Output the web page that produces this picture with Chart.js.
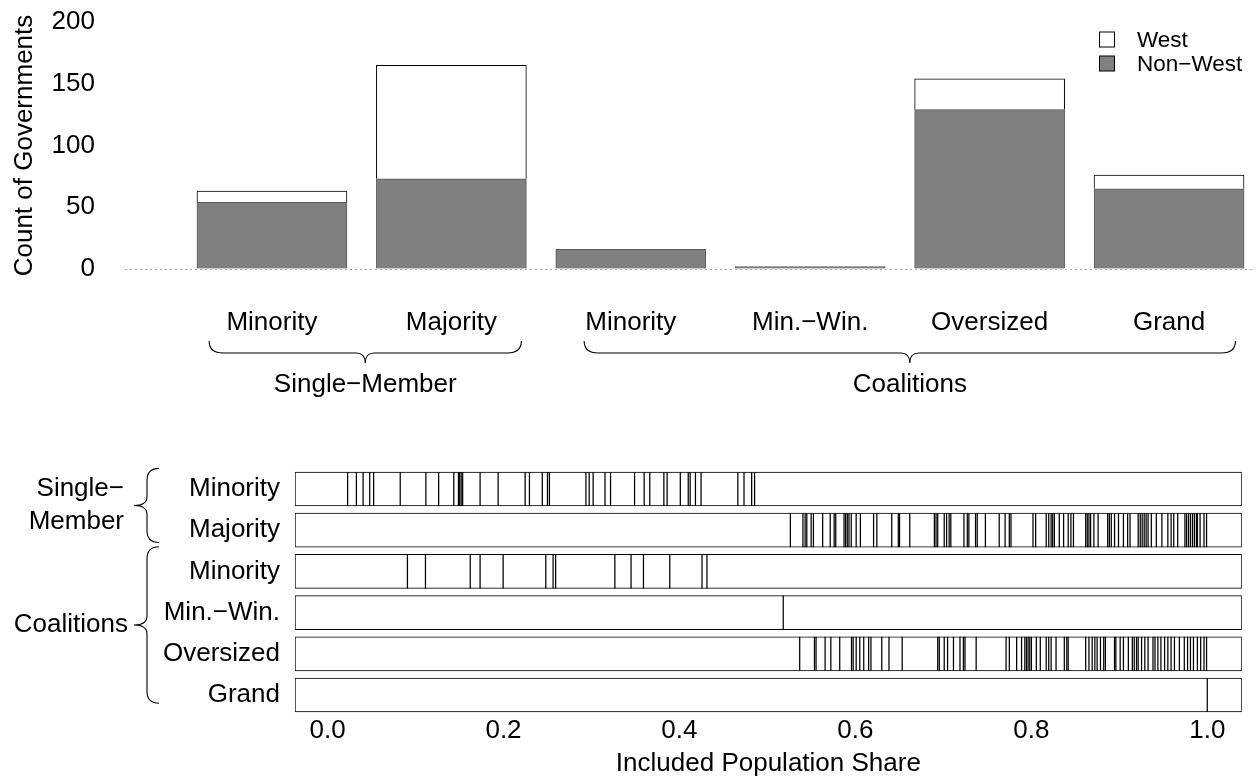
<!DOCTYPE html>
<html>
<head>
<meta charset="utf-8">
<script src="https://cdn.jsdelivr.net/npm/chart.js@4.4.1/dist/chart.umd.min.js"></script>
<style>
  html, body { margin: 0; padding: 0; background: #ffffff; }
  #wrap { position: relative; width: 1260px; height: 780px; }
  #countChart { position: absolute; left: 0; top: 0; }
  #shareChart { position: absolute; left: 0; top: 420px; }
</style>
</head>
<body>
<div id="wrap">
  <canvas id="countChart" width="1260" height="420"></canvas>
  <canvas id="shareChart" width="1260" height="360"></canvas>
</div>
<script>
// ---- data -------------------------------------------------------------
const governmentTypes = ['Minority', 'Majority', 'Minority', 'Min.\u2212Win.', 'Oversized', 'Grand'];
const groupNames = ['Single\u2212Member', 'Coalitions'];
const nonWestCounts = [54, 73, 16, 2, 129, 65];
const westCounts = [9, 92, 0, 0, 25, 11];
const countTicks = [0, 50, 100, 150, 200];
const shareTicks = [0.0, 0.2, 0.4, 0.6, 0.8, 1.0];

// included population share of each government, by type
const shareSingleMinority = [0.0228, 0.0328, 0.0404, 0.0479, 0.0524, 0.0826, 0.1118, 0.1263, 0.1435, 0.1488,
  0.1502, 0.1519, 0.1536, 0.1734, 0.1939, 0.2246, 0.2295, 0.2441, 0.2500, 0.2522, 0.2937, 0.2974, 0.3019,
  0.3154, 0.3217, 0.3490, 0.3599, 0.3663, 0.3823, 0.3860, 0.4010, 0.4100, 0.4122, 0.4182, 0.4246, 0.4664,
  0.4734, 0.4821, 0.4854];
const shareSingleMajority = [0.5261, 0.5404, 0.5429, 0.5448, 0.5497, 0.5523, 0.5628, 0.5714, 0.5759, 0.5777,
  0.5871, 0.5889, 0.5908, 0.5927, 0.5953, 0.6009, 0.6057, 0.6207, 0.6244, 0.6413, 0.6488, 0.6502, 0.6618,
  0.6898, 0.6917, 0.6936, 0.7010, 0.7037, 0.7066, 0.7085, 0.7234, 0.7272, 0.7290, 0.7366, 0.7385, 0.7478,
  0.7635, 0.7702, 0.7750, 0.7769, 0.8019, 0.8049, 0.8169, 0.8198, 0.8225, 0.8243, 0.8262, 0.8318, 0.8367,
  0.8419, 0.8450, 0.8479, 0.8618, 0.8636, 0.8655, 0.8674, 0.8711, 0.8759, 0.8868, 0.8887, 0.8909, 0.8946,
  0.8991, 0.9047, 0.9095, 0.9122, 0.9215, 0.9238, 0.9260, 0.9283, 0.9305, 0.9327, 0.9364, 0.9421, 0.9484,
  0.9552, 0.9589, 0.9619, 0.9664, 0.9746, 0.9765, 0.9787, 0.9809, 0.9832, 0.9854, 0.9877, 0.9888, 0.9918,
  0.9963, 0.9992];
const shareCoalMinority = [0.0908, 0.1113, 0.1622, 0.1734, 0.1996, 0.2481, 0.2564, 0.2593, 0.3266, 0.3450,
  0.3591, 0.3890, 0.4257, 0.4313];
const shareCoalMinWin = [0.518];
const shareCoalOversized = [0.5367, 0.5535, 0.5553, 0.5656, 0.5721, 0.5822, 0.5956, 0.5975, 0.6009, 0.6050,
  0.6095, 0.6151, 0.6177, 0.6300, 0.6382, 0.6532, 0.6936, 0.6954, 0.7010, 0.7048, 0.7115, 0.7189, 0.7228,
  0.7246, 0.7373, 0.7713, 0.7750, 0.7833, 0.7889, 0.7926, 0.7945, 0.7963, 0.7982, 0.8001, 0.8057, 0.8102,
  0.8169, 0.8198, 0.8225, 0.8281, 0.8375, 0.8403, 0.8419, 0.8618, 0.8655, 0.8692, 0.8722, 0.8748, 0.8786,
  0.8823, 0.8842, 0.8946, 0.8961, 0.9010, 0.9047, 0.9103, 0.9148, 0.9170, 0.9196, 0.9215, 0.9253, 0.9290,
  0.9327, 0.9383, 0.9406, 0.9439, 0.9473, 0.9515, 0.9552, 0.9589, 0.9627, 0.9683, 0.9739, 0.9776, 0.9809,
  0.9843, 0.9888, 0.9925, 0.9963, 0.9992];
const shareCoalGrand = [1.0];

const shareByType = [shareSingleMinority, shareSingleMajority, shareCoalMinority,
  shareCoalMinWin, shareCoalOversized, shareCoalGrand];

// ---- shared style -----------------------------------------------------
const FONT = "'Liberation Sans', Arial, Helvetica, sans-serif";
Chart.defaults.font.family = FONT;
Chart.defaults.color = '#000000';
const TEXT = 26;

// horizontal curly brace, tip pointing down
function braceDown(ctx, x1, x2, xTip, yEnd, yMid, yTip) {
  const r = 14, rt = 9;
  ctx.beginPath();
  ctx.moveTo(x1, yEnd);
  ctx.quadraticCurveTo(x1, yMid, x1 + r, yMid);
  ctx.lineTo(xTip - rt, yMid);
  ctx.quadraticCurveTo(xTip, yMid, xTip, yTip);
  ctx.quadraticCurveTo(xTip, yMid, xTip + rt, yMid);
  ctx.lineTo(x2 - r, yMid);
  ctx.quadraticCurveTo(x2, yMid, x2, yEnd);
  ctx.stroke();
}

// vertical curly brace, tip pointing left
function braceLeft(ctx, y1, y2, yTip, xEnd, xMid, xTip) {
  const r = 12, rt = 9;
  ctx.beginPath();
  ctx.moveTo(xEnd, y1);
  ctx.quadraticCurveTo(xMid, y1, xMid, y1 + r);
  ctx.lineTo(xMid, yTip - rt);
  ctx.quadraticCurveTo(xMid, yTip, xTip, yTip);
  ctx.quadraticCurveTo(xMid, yTip, xMid, yTip + rt);
  ctx.lineTo(xMid, y2 - r);
  ctx.quadraticCurveTo(xMid, y2, xEnd, y2);
  ctx.stroke();
}

// ---- counts per government type ----------------------------------------
const countGroups = [
  { name: groupNames[0], from: 0.65, to: 2.39 },
  { name: groupNames[1], from: 2.74, to: 6.37 }
];

const countDecor = {
  id: 'countDecor',
  afterDraw(chart) {
    const ctx = chart.ctx;
    const x = chart.scales.x;
    ctx.save();
    ctx.strokeStyle = '#000000';
    ctx.lineWidth = 1.1;
    ctx.fillStyle = '#000000';
    ctx.font = TEXT + 'px ' + FONT;
    ctx.textAlign = 'center';
    ctx.textBaseline = 'middle';
    countGroups.forEach(g => {
      const x1 = x.getPixelForValue(g.from);
      const x2 = x.getPixelForValue(g.to);
      const xm = (x1 + x2) / 2;
      braceDown(ctx, x1, x2, xm, 341, 353, 363);
      ctx.fillText(g.name, xm, 385);
    });

    // legend, West first
    const items = chart.data.datasets.slice().reverse();
    ctx.font = '22.5px ' + FONT;
    ctx.textAlign = 'left';
    items.forEach((ds, i) => {
      const cy = 39.5 + i * 24;
      ctx.fillStyle = ds.backgroundColor;
      ctx.fillRect(1099.5, cy - 7.5, 15, 15);
      ctx.strokeStyle = '#000000';
      ctx.lineWidth = 1;
      ctx.strokeRect(1099.5, cy - 7.5, 15, 15);
      ctx.fillStyle = '#000000';
      ctx.fillText(ds.label, 1137, cy + 1);
    });
    ctx.restore();
  }
};

new Chart(document.getElementById('countChart'), {
  type: 'bar',
  data: {
    datasets: [
      {
        label: 'Non\u2212West',
        data: nonWestCounts.map((v, i) => ({ x: i + 1, y: v })),
        backgroundColor: '#808080',
        borderColor: '#5a5a5a',
        borderWidth: 1,
        barThickness: 150,
        stack: 'all'
      },
      {
        label: 'West',
        data: westCounts.map((v, i) => ({ x: i + 1, y: v })),
        backgroundColor: '#ffffff',
        borderColor: '#000000',
        borderWidth: c => (c.raw && c.raw.y > 0 ? 1 : 0),
        barThickness: 150,
        stack: 'all'
      }
    ]
  },
  options: {
    responsive: false,
    animation: false,
    events: [],
    layout: { padding: { left: 0, right: 5, top: 22, bottom: 0 } },
    plugins: { legend: { display: false }, tooltip: { enabled: false } },
    scales: {
      x: {
        type: 'linear',
        stacked: true,
        min: 0.181,
        max: 6.479,
        offset: false,
        grid: { display: false, drawTicks: false, offset: false },
        border: { display: false },
        afterBuildTicks: s => { s.ticks = governmentTypes.map((_, i) => ({ value: i + 1 })); },
        afterFit: s => { s.height = 151; },
        ticks: {
          autoSkip: false,
          maxRotation: 0,
          padding: 38,
          font: { size: TEXT },
          color: '#000000',
          callback: v => governmentTypes[Math.round(v) - 1]
        }
      },
      y: {
        type: 'linear',
        stacked: true,
        min: 0,
        max: 200,
        afterBuildTicks: s => { s.ticks = countTicks.map(v => ({ value: v })); },
        afterFit: s => { s.width = 125; s.paddingTop = 0; s.paddingBottom = 0; },
        grid: {
          drawTicks: false,
          lineWidth: 1,
          color: c => (c.tick && c.tick.value === 0 ? '#b0b0b0' : 'rgba(0,0,0,0)')
        },
        border: { display: false, dash: [2, 3] },
        ticks: { padding: 30, font: { size: TEXT }, color: '#000000' },
        title: {
          display: true,
          text: 'Count of Governments',
          font: { size: TEXT },
          color: '#000000',
          padding: { top: 9, bottom: 0 }
        }
      }
    }
  },
  plugins: [countDecor]
});

// ---- included population share per government --------------------------
const SHARE_MIN = -0.037;
const SHARE_MAX = 1.0392;
const shareGroups = [
  { lines: ['Single\u2212', 'Member'], from: -0.5, to: 1.3, textRight: 124 },
  { lines: ['Coalitions'], from: 1.4, to: 5.2, textRight: 128 }
];

const shareDecor = {
  id: 'shareDecor',
  afterDraw(chart) {
    const ctx = chart.ctx;
    const y = chart.scales.y;
    ctx.save();
    ctx.strokeStyle = '#000000';
    ctx.lineWidth = 1.1;
    ctx.fillStyle = '#000000';
    ctx.font = TEXT + 'px ' + FONT;
    ctx.textAlign = 'right';
    ctx.textBaseline = 'middle';
    shareGroups.forEach(g => {
      const y1 = y.getPixelForValue(g.from);
      const y2 = y.getPixelForValue(g.to);
      const ym = (y1 + y2) / 2;
      braceLeft(ctx, y1, y2, ym, 159, 147, 134);
      const step = 33.5;
      const start = ym - (g.lines.length - 1) * step / 2;
      g.lines.forEach((t, k) => ctx.fillText(t, g.textRight, start + k * step));
    });
    ctx.restore();
  }
};

new Chart(document.getElementById('shareChart'), {
  type: 'scatter',
  data: {
    datasets: [
      {
        type: 'bar',
        indexAxis: 'y',
        data: governmentTypes.map((_, i) => ({ y: i, x: [SHARE_MIN, SHARE_MAX] })),
        backgroundColor: '#ffffff',
        borderColor: '#000000',
        borderWidth: 1,
        borderSkipped: false,
        barThickness: 34,
        grouped: false,
        order: 2
      },
      {
        type: 'scatter',
        data: shareByType.flatMap((arr, i) => arr.map(v => ({ x: v, y: i }))),
        pointStyle: 'line',
        pointRotation: 90,
        pointRadius: 17,
        pointBorderColor: '#000000',
        pointBackgroundColor: '#000000',
        pointBorderWidth: 1.25,
        showLine: false,
        order: 1
      }
    ]
  },
  options: {
    responsive: false,
    animation: false,
    events: [],
    layout: { padding: { left: 0, right: 5, top: 48.4, bottom: 0 } },
    plugins: { legend: { display: false }, tooltip: { enabled: false } },
    scales: {
      x: {
        type: 'linear',
        min: SHARE_MIN,
        max: SHARE_MAX,
        offset: false,
        afterBuildTicks: s => { s.ticks = shareTicks.map(v => ({ value: v })); },
        afterFit: s => { s.height = 64.4; },
        grid: { display: false, drawTicks: false },
        border: { display: false },
        ticks: {
          autoSkip: false,
          maxRotation: 0,
          padding: 0,
          font: { size: TEXT },
          color: '#000000',
          callback: v => v.toFixed(1)
        },
        title: {
          display: true,
          text: 'Included Population Share',
          font: { size: TEXT },
          color: '#000000',
          padding: { top: 0, bottom: 1 }
        }
      },
      y: {
        type: 'linear',
        min: -0.5,
        max: 5.5,
        reverse: true,
        offset: false,
        afterBuildTicks: s => { s.ticks = governmentTypes.map((_, i) => ({ value: i })); },
        afterFit: s => { s.width = 295; },
        grid: { display: false, drawTicks: false, offset: false },
        border: { display: false },
        ticks: {
          autoSkip: false,
          padding: 15,
          font: { size: TEXT },
          color: '#000000',
          callback: v => governmentTypes[Math.round(v)]
        }
      }
    }
  },
  plugins: [shareDecor]
});
</script>
</body>
</html>
